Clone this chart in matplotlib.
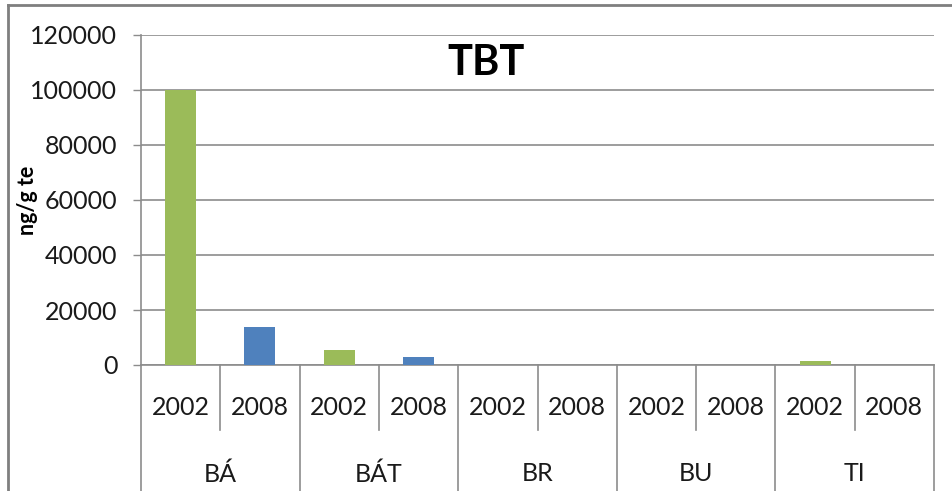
import matplotlib.pyplot as plt
import matplotlib.transforms as mtransforms
from matplotlib.lines import Line2D

# data
groups = ["BÁ", "BÁT", "BR", "BU", "TI"]
years = ["2002", "2008"]
values = [100000, 13700, 5300, 2900, 0, 0, 0, 0, 1600, 0]
colors_year = {"2002": "#9BBB59", "2008": "#4F81BD"}

plt.rcParams['font.family'] = ['Lato', 'DejaVu Sans']

fig = plt.figure(figsize=(9.52, 4.91), dpi=100)
ax = fig.add_axes([141/952, (491-365)/491, (934-141)/952, (365-35)/491])

x = list(range(len(values)))
bar_colors = [colors_year[years[i % 2]] for i in x]
ax.bar(x, values, width=0.39, color=bar_colors, zorder=3)

ax.set_xlim(-0.5, len(values) - 0.5)
ax.set_ylim(0, 120000)
ax.set_yticks(range(0, 120001, 20000))
ax.grid(axis='y', color='#8C8C8C', linewidth=1.2, zorder=0)
ax.tick_params(axis='y', direction='out', length=6, width=1, color='#8C8C8C',
               labelsize=18, pad=11, labelcolor='#1a1a1a')
ax.set_xticks([])
for s in ['top', 'right']:
    ax.spines[s].set_visible(False)
for s in ['left', 'bottom']:
    ax.spines[s].set_color('#8C8C8C')
    ax.spines[s].set_linewidth(1.2)

ax.set_ylabel("ng/g te", fontsize=15.5, fontweight='bold')
ax.yaxis.set_label_coords(-0.13, 0.5)

ax.text(0.435, 0.915, "TBT", transform=ax.transAxes, fontsize=30,
        fontweight='bold', ha='center', va='center')

# category axis with two levels
trans = mtransforms.blended_transform_factory(ax.transData, ax.transAxes)
for i in x:
    ax.text(i, -0.13, years[i % 2], transform=trans, ha='center', va='center',
            fontsize=18, color='#1a1a1a')
for g, name in enumerate(groups):
    ax.text(2*g + 0.5, -0.33, name, transform=trans, ha='center', va='center',
            fontsize=18, color='#1a1a1a')
for b in range(len(values) + 1):
    xb = b - 0.5
    ybot = -0.40 if b % 2 == 0 else -0.197
    ax.add_line(Line2D([xb, xb], [0, ybot], transform=trans, color='#8C8C8C',
                       linewidth=1.2, clip_on=False))

# outer chart border
fig.add_artist(Line2D([8/952, 8/952], [0, 1 - 5/491], color='#7F7F7F', linewidth=2))
fig.add_artist(Line2D([8/952, 1], [1 - 5/491, 1 - 5/491], color='#7F7F7F', linewidth=2))

fig.savefig("out.png", dpi=100)
